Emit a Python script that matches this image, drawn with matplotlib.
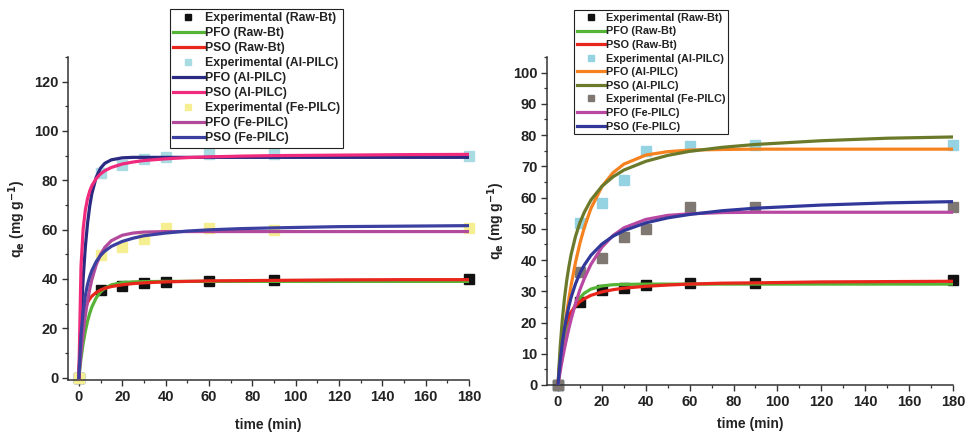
import matplotlib
matplotlib.use("Agg")
import matplotlib.pyplot as plt
from matplotlib.ticker import MultipleLocator

plt.rcParams['font.family'] = ['Liberation Sans', 'DejaVu Sans']
plt.rcParams['font.weight'] = 'bold'
plt.rcParams['mathtext.default'] = 'bf'

# ---------------- data ----------------
t_exp = [0, 10, 20, 30, 40, 60, 90, 180]
t_fit = [0, 1, 2, 3, 4, 5, 6, 8, 10, 12, 15, 20, 25, 30, 40, 50, 60, 75, 90, 120, 150, 180]

# Left panel
L_raw_exp = [0, 35.5, 37.0, 38.5, 38.8, 39.0, 39.5, 40.0]
L_al_exp = [0, 83.0, 86.0, 88.5, 89.6, 90.8, 90.8, 90.0]
L_fe_exp = [0, 49.5, 53.0, 56.0, 60.8, 60.5, 60.0, 60.5]

L_raw_pfo = [0, 7.7, 13.9, 18.8, 22.8, 26.0, 28.6, 32.3, 34.7, 36.2, 37.6, 38.5, 38.8, 38.9, 39.0, 39.0, 39.0, 39.0, 39.0, 39.0, 39.0, 39.0]
L_raw_pso = [0, 17.7, 24.5, 28.1, 30.4, 31.9, 33.0, 34.5, 35.5, 36.2, 36.9, 37.6, 38.1, 38.4, 38.8, 39.0, 39.2, 39.3, 39.4, 39.6, 39.7, 39.7]
L_al_pfo = [0, 23.1, 40.3, 53.0, 62.4, 69.4, 74.6, 81.2, 84.9, 86.9, 88.3, 89.1, 89.3, 89.3, 89.3, 89.3, 89.3, 89.3, 89.3, 89.3, 89.3, 89.3]
L_al_pso = [0, 45.0, 60.3, 67.9, 72.5, 75.6, 77.8, 80.7, 82.6, 83.9, 85.2, 86.6, 87.4, 88.0, 88.7, 89.2, 89.5, 89.8, 90.0, 90.2, 90.4, 90.5]
L_fe_pfo = [0, 10.0, 18.3, 25.2, 31.0, 35.7, 39.7, 45.7, 49.9, 52.8, 55.5, 57.7, 58.6, 59.0, 59.2, 59.2, 59.2, 59.2, 59.2, 59.2, 59.2, 59.2]
L_fe_pso = [0, 17.2, 27.0, 33.3, 37.7, 40.9, 43.4, 47.0, 49.5, 51.3, 53.2, 55.2, 56.5, 57.5, 58.6, 59.4, 59.9, 60.4, 60.7, 61.2, 61.4, 61.6]

# Right panel
R_raw_exp = [0, 26.7, 30.4, 31.1, 31.9, 32.6, 32.8, 33.5]
R_al_exp = [0, 52.0, 58.3, 65.7, 74.8, 76.4, 76.7, 76.7]
R_fe_exp = [0, 36.2, 40.5, 47.5, 49.9, 56.9, 57.0, 57.0]

R_raw_pfo = [0, 5.8, 10.7, 14.6, 17.8, 20.4, 22.6, 25.8, 27.9, 29.4, 30.7, 31.7, 32.1, 32.2, 32.3, 32.3, 32.3, 32.3, 32.3, 32.3, 32.3, 32.3]
R_raw_pso = [0, 9.3, 14.6, 18.0, 20.3, 22.1, 23.4, 25.3, 26.7, 27.6, 28.7, 29.8, 30.5, 31.0, 31.6, 32.0, 32.3, 32.6, 32.7, 33.0, 33.1, 33.2]
R_al_pfo = [0, 6.6, 12.7, 18.2, 23.3, 27.8, 32.0, 39.3, 45.4, 50.4, 56.5, 63.5, 67.9, 70.7, 73.6, 74.7, 75.2, 75.4, 75.5, 75.5, 75.5, 75.5]
R_al_pso = [0, 12.1, 21.1, 28.0, 33.5, 38.0, 41.8, 47.6, 52.0, 55.3, 59.2, 63.6, 66.6, 68.8, 71.6, 73.5, 74.8, 76.1, 77.0, 78.2, 79.0, 79.4]
R_fe_pfo = [0, 4.3, 8.2, 11.8, 15.1, 18.2, 21.1, 26.1, 30.5, 34.1, 38.6, 44.1, 47.8, 50.3, 53.0, 54.3, 54.8, 55.2, 55.3, 55.3, 55.3, 55.3]
R_fe_pso = [0, 7.6, 13.5, 18.2, 22.1, 25.3, 28.1, 32.4, 35.8, 38.4, 41.5, 45.1, 47.6, 49.4, 51.9, 53.5, 54.6, 55.8, 56.6, 57.6, 58.3, 58.7]

labels = ["Experimental (Raw-Bt)", "PFO (Raw-Bt)", "PSO (Raw-Bt)",
          "Experimental (Al-PILC)", "PFO (Al-PILC)", "PSO (Al-PILC)",
          "Experimental (Fe-PILC)", "PFO (Fe-PILC)", "PSO (Fe-PILC)"]

# ---------------- figure ----------------
fig = plt.figure(figsize=(9.65, 4.32), dpi=100)
axL = fig.add_axes([68/965, 1-380/432, 401/965, 323/432])
axR = fig.add_axes([547/965, 1-385/432, 406/965, 328/432])

def draw(ax, exps, fits, ecols, fcols):
    handles = []
    for i in range(3):
        h, = ax.plot(t_exp, exps[i], ls='none', marker='s', ms=6.5, color=ecols[i],
                     clip_on=False, zorder=2)
        handles.append(h)
        h1, = ax.plot(t_fit, fits[i][0], color=fcols[i][0], lw=2.3, zorder=3)
        h2, = ax.plot(t_fit, fits[i][1], color=fcols[i][1], lw=2.3, zorder=3)
        handles += [h1, h2]
    return handles

hL = draw(axL, [L_raw_exp, L_al_exp, L_fe_exp],
          [(L_raw_pfo, L_raw_pso), (L_al_pfo, L_al_pso), (L_fe_pfo, L_fe_pso)],
          ['#111111', '#a9dbe3', '#f5ef92'],
          [('#55b335', '#e8261c'), ('#2b2a82', '#f02a7c'), ('#b24a9c', '#3b40a0')])
hR = draw(axR, [R_raw_exp, R_al_exp, R_fe_exp],
          [(R_raw_pfo, R_raw_pso), (R_al_pfo, R_al_pso), (R_fe_pfo, R_fe_pso)],
          ['#111111', '#95d3e2', '#7f7872'],
          [('#55b335', '#e8261c'), ('#f5821f', '#6b7a2a'), ('#b848a2', '#32389a')])

def style(ax, ylim, ymin, yticks, xpad):
    ax.set_xlim(-5, 180)
    ax.set_ylim(*ylim)
    ax.set_xticks(range(0, 181, 20))
    ax.xaxis.set_minor_locator(MultipleLocator(10))
    ax.set_yticks(yticks)
    ax.yaxis.set_minor_locator(MultipleLocator(ymin))
    for s in ['top', 'right']:
        ax.spines[s].set_visible(False)
    for s in ['left', 'bottom']:
        ax.spines[s].set_linewidth(1.1)
        ax.spines[s].set_color('#333333')
    ax.tick_params(which='major', direction='out', length=4, width=1.0, color='#333333',
                   labelsize=10.5, labelcolor='#222222', pad=3)
    ax.tick_params(which='minor', direction='out', length=2.5, width=0.9, color='#333333')
    for lab in ax.get_xticklabels() + ax.get_yticklabels():
        lab.set_fontweight('bold')
    ax.set_xlabel('time (min)', fontsize=10, fontweight='bold', color='#222222', labelpad=xpad)
    ax.set_ylabel(r'q$_e$ (mg g$^{-1}$)', fontsize=10, fontweight='bold', color='#222222', labelpad=4)

style(axL, (-1, 130), 10, range(0, 121, 20), 10)
style(axR, (0, 105), 5, range(0, 101, 10), 6)

def legend(handles, x, y, size, ls, hl):
    leg = fig.legend(handles, labels, loc='upper left', bbox_to_anchor=(x, y),
                     bbox_transform=fig.transFigure, frameon=True, fancybox=False,
                     edgecolor='#222222', framealpha=1, markerscale=0.75,
                     handlelength=hl, handletextpad=0.1, labelspacing=ls,
                     borderpad=0.25, borderaxespad=0, prop={'weight': 'bold', 'size': size})
    leg.get_frame().set_linewidth(0.8)
    for txt in leg.get_texts():
        txt.set_color('#222222')
    return leg

legend(hL, 170/965, 1-9/432, 8.8, 0.25, 2.5)
legend(hR, 574/965, 1-10/432, 7.85, 0.33, 2.6)

fig.savefig('out.png', dpi=100)
